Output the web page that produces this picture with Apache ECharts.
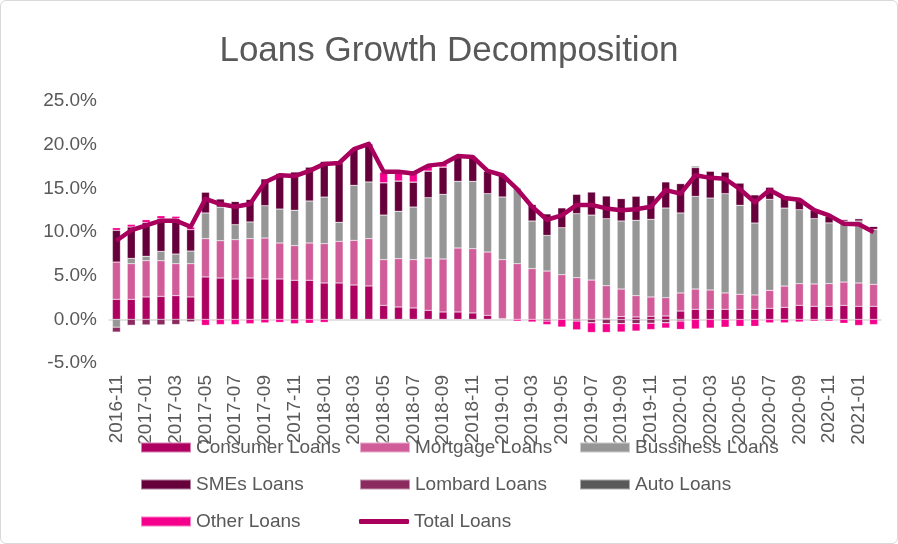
<!DOCTYPE html>
<html>
<head>
<meta charset="utf-8">
<script src="https://cdn.jsdelivr.net/npm/echarts@6/dist/echarts.min.js"></script>
<style>
  html, body { margin: 0; padding: 0; background: #fff; }
  #frame { position: absolute; left: 0; top: 0; width: 896px; height: 542px; border: 1px solid #d9d9d9; border-radius: 6px; }
  #chart { position: absolute; left: 0; top: 0; width: 898px; height: 544px; }
</style>
</head>
<body>
<div id="frame"></div>
<div id="chart"></div>
<script>
// Monthly contributions to loan growth, percentage points
const months = [
  '2016-11','2016-12','2017-01','2017-02','2017-03','2017-04','2017-05','2017-06','2017-07','2017-08',
  '2017-09','2017-10','2017-11','2017-12','2018-01','2018-02','2018-03','2018-04','2018-05','2018-06',
  '2018-07','2018-08','2018-09','2018-10','2018-11','2018-12','2019-01','2019-02','2019-03','2019-04',
  '2019-05','2019-06','2019-07','2019-08','2019-09','2019-10','2019-11','2019-12','2020-01','2020-02',
  '2020-03','2020-04','2020-05','2020-06','2020-07','2020-08','2020-09','2020-10','2020-11','2020-12',
  '2021-01','2021-02'
];
const consumer = [2.29,2.29,2.56,2.63,2.71,2.56,4.85,4.73,4.62,4.73,4.62,4.62,4.47,4.47,4.16,4.16,3.93,3.82,1.6,1.41,1.3,1.03,0.84,0.84,0.73,0.46,0.08,0,0,-0.2,0,0,0,0.1,0.3,0.27,0.34,0.38,0.95,1.15,1.15,1.15,1.15,1.15,1.26,1.37,1.6,1.49,1.49,1.6,1.49,1.49];
const mortgage = [4.27,4.08,4.16,4.08,3.66,3.81,4.39,4.27,4.5,4.51,4.69,4.12,3.97,4.27,4.5,4.77,5.11,5.42,5.23,5.54,5.53,5.99,6.07,7.33,7.36,7.25,6.75,6.37,5.8,5.53,5.11,4.77,4.5,3.75,3.17,2.44,2.22,2.1,2.07,2.32,2.21,1.87,1.72,1.64,2.06,2.44,2.48,2.56,2.6,2.67,2.67,2.52];
const business = [-0.9,0.61,0.5,1.07,1.11,1.45,2.94,3.85,1.72,1.91,3.7,3.89,4.05,4.81,5.34,2.18,6.3,6.49,5.11,5.42,6.03,6.91,7.4,7.63,7.71,6.68,7.18,8.7,5.46,4.08,5.38,7.33,7.44,7.67,7.79,8.63,8.89,10.27,9.16,10.61,10.53,11.37,10.19,8.24,10.42,8.93,8.47,7.48,6.95,6.98,7.1,6.3];
const smes = [3.63,3.59,3.85,3.74,4.05,2.44,2.4,0.95,2.67,2.6,3.09,4.1,4.4,3.9,4.1,6.83,4.2,4.39,3.7,3.47,2.86,3.05,3.13,2.9,2.8,2.6,2.5,0,1.91,2.48,2.29,2.21,2.63,2.6,2.56,2.75,2.71,2.98,3.36,3.3,3.09,2.48,2.56,3.24,1.41,1.34,1.26,0.95,0.76,0.2,0.27,0.34];
const lombard = [-0.57,-0.69,-0.65,-0.65,-0.6,-0.3,0,0,0,0,0,0,0,0,0,0,0,0,0,0,0,0,0,0,0,0,0,0,0,0,0,-0.2,-0.4,-0.5,-0.5,-0.5,-0.45,-0.4,-0.2,0,0,0,0,0,0,0,0,0,0,0,0,0];
const auto = [0,0,0,0,0,0,0,0,0,0,0,0,0,0,0,0,0,0,0,0,0,0,0,0,0,0,0,0,0,0,0,0,0,0,0,0,0,0,0,0.15,0,0,0,0,0,0,0,0,0,0,0,0];
const other = [0.3,0.3,0.34,0.34,0.27,0.3,-0.69,-0.6,-0.6,-0.5,-0.4,-0.35,-0.5,-0.45,-0.35,0,0,0,1.2,1.0,1.0,0.6,0.4,0,0,0,0,-0.2,-0.3,-0.4,-0.88,-1.0,-1.1,-1.0,-0.95,-0.84,-0.72,-0.6,-0.95,-1.1,-1.0,-0.9,-0.8,-0.8,-0.4,-0.4,-0.3,-0.2,-0.2,-0.45,-0.7,-0.6];
const total = [9.0,10.2,10.76,11.3,11.3,10.6,13.8,13.2,12.9,13.2,15.7,16.5,16.4,17.0,17.8,17.9,19.5,20.1,16.9,16.9,16.7,17.6,17.8,18.7,18.6,17.0,16.5,14.9,12.9,11.4,11.9,13.1,13.1,12.7,12.5,12.6,12.9,14.8,14.4,16.5,16.2,16.1,14.9,13.4,14.8,13.9,13.7,12.5,11.9,10.95,10.9,10.0];

const FONT = '"Liberation Sans", Arial, sans-serif';
const TXT = '#595959';

const barDefs = [
  ['Consumer Loans', consumer, '#AD0060'],
  ['Mortgage Loans', mortgage, '#D05C9A'],
  ['Bussiness Loans', business, '#969696'],
  ['SMEs Loans', smes, '#66003A'],
  ['Lombard Loans', lombard, '#8B2A5E'],
  ['Auto Loans', auto, '#595959'],
  ['Other Loans', other, '#F5008C']
];

const series = barDefs.map(([name, data, color]) => ({
  name, type: 'bar', stack: 'loans', data,
  barWidth: '54%',
  itemStyle: { color, borderColor: 'rgba(255,255,255,0.5)', borderWidth: 0.5 },
  emphasis: { disabled: true }
}));
series.push({
  name: 'Total Loans', type: 'line', data: total,
  showSymbol: false, symbol: 'none',
  lineStyle: { color: '#A8005C', width: 4.5, join: 'round' },
  itemStyle: { color: '#A8005C' },
  z: 5
});

// one legend block per entry, laid out in a 3-column grid
const colX = [140, 359, 579];
const rowY = [438, 475, 512];
const legendOrder = ['Consumer Loans','Mortgage Loans','Bussiness Loans','SMEs Loans','Lombard Loans','Auto Loans','Other Loans','Total Loans'];
const legends = legendOrder.map((name, i) => ({
  left: colX[i % 3], top: rowY[Math.floor(i / 3)],
  padding: 0, orient: 'horizontal',
  itemWidth: 50, itemHeight: name === 'Total Loans' ? 5 : 10,
  icon: name === 'Total Loans' ? 'roundRect' : 'rect',
  selectedMode: false,
  textStyle: { fontFamily: FONT, fontSize: 19, color: TXT },
  data: [name]
}));

const chart = echarts.init(document.getElementById('chart'), null, { renderer: 'canvas' });
chart.setOption({
  animation: false,
  title: {
    text: 'Loans Growth Decomposition', left: 'center', top: 29,
    textStyle: { fontFamily: FONT, fontSize: 35, fontWeight: 'normal', color: TXT }
  },
  legend: legends,
  grid: { left: 109, right: 17, top: 101, bottom: 181 },
  xAxis: {
    type: 'category', data: months,
    axisLine: { onZero: true, lineStyle: { color: '#D9D9D9', width: 1.5 } },
    axisTick: { show: false },
    axisLabel: { interval: 1, rotate: 90, margin: 12, fontFamily: FONT, fontSize: 19, color: TXT }
  },
  yAxis: {
    type: 'value', min: -5, max: 25, interval: 5,
    axisLine: { show: false }, axisTick: { show: false },
    splitLine: { show: false },
    axisLabel: { margin: 12, fontFamily: FONT, fontSize: 19, color: TXT, formatter: v => v.toFixed(1) + '%' }
  },
  series
});
</script>
</body>
</html>
